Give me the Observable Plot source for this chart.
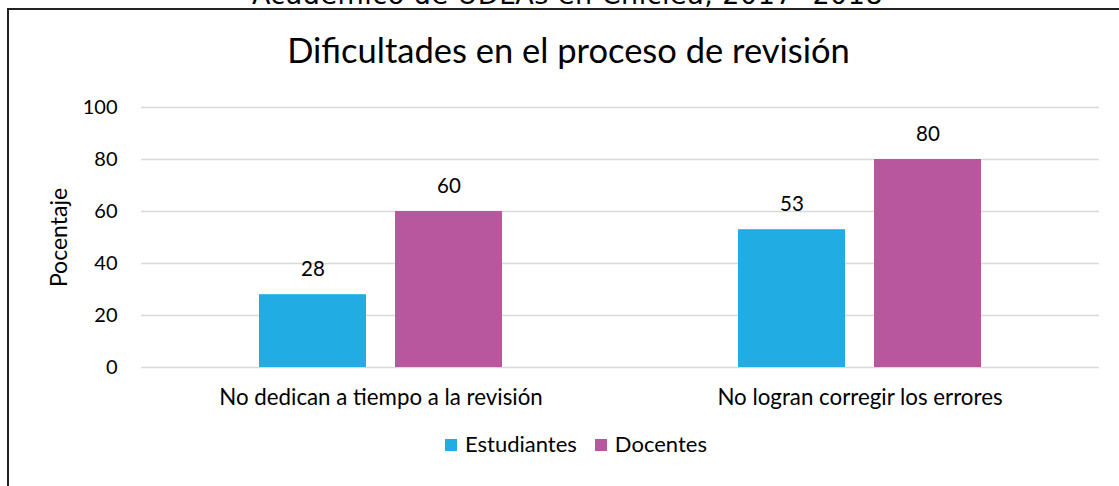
<!DOCTYPE html>
<html><head><meta charset="utf-8">
<script src="https://cdn.jsdelivr.net/npm/d3@7"></script>
<script src="https://cdn.jsdelivr.net/npm/@observablehq/plot@0.6"></script>
<style>
body{margin:0;background:#fff;}
#wrap{position:relative;width:1119px;height:486px;overflow:hidden;font-family:Lato,sans-serif;color:#000;}
#top{position:absolute;left:8px;width:1119px;top:-19px;text-align:center;font-family:"DejaVu Sans";font-size:27px;line-height:1;white-space:nowrap;letter-spacing:0.5px;}
#frame{position:absolute;left:7px;top:8px;width:1300px;height:700px;border-left:2px solid #222;border-top:2px solid #222;}
#title{position:absolute;left:9px;width:1119px;top:33px;text-align:center;font-size:34.5px;line-height:1;white-space:nowrap;}
#chart{position:absolute;left:0;top:80px;}
#legend{position:absolute;left:445px;top:433px;display:flex;align-items:flex-start;font-size:22px;line-height:1;white-space:nowrap;}
.sw{width:12px;height:12px;margin-top:6px;margin-right:8px;}
.item{display:flex;margin-right:18px;}
</style>
</head><body>
<div id="wrap">
<div id="top"></div>
<div id="frame"></div>
<div id="title"></div>
<div id="chart"></div>
<div id="legend"></div>
</div>
<script>
const supertitle = "Académico de UDLAs en Chiclea, 2017- 2018";
const title = "Dificultades en el proceso de revisión";
const categories = ["No dedican a tiempo a la revisión", "No logran corregir los errores"];
const series = ["Estudiantes", "Docentes"];
const estudiantes = [28, 53];
const docentes = [60, 80];
const yTicks = [0, 20, 40, 60, 80, 100];
const yLabel = "Pocentaje";
const colors = ["#21ADE3", "#B8569E"];

document.getElementById("top").textContent = supertitle;
document.getElementById("title").textContent = title;

const data = categories.flatMap((c, i) => [
  {cat: c, serie: series[0], v: estudiantes[i]},
  {cat: c, serie: series[1], v: docentes[i]}
]);

const chart = Plot.plot({
  width: 1119,
  height: 340,
  marginTop: 27,
  marginBottom: 53,
  marginLeft: 141,
  marginRight: 20,
  style: {fontFamily: "Lato, sans-serif", fontSize: "20px", color: "#000", background: "transparent", overflow: "visible"},
  fx: {domain: categories, padding: 0, axis: null},
  x: {domain: series, paddingInner: 0.2132, paddingOuter: 0.8676, axis: null},
  y: {domain: [0, 100], axis: null},
  color: {domain: series, range: colors},
  marks: [
    Plot.gridY(yTicks, {stroke: "#d9d9d9", strokeOpacity: 1, strokeWidth: 1.5}),
    Plot.barY(data, {fx: "cat", x: "serie", y: "v", fill: "serie"}),
    Plot.text(data, {fx: "cat", x: "serie", y: "v", text: d => String(d.v), dy: -25, fontSize: 20.5, fill: "#000"}),
    Plot.axisFx({anchor: "bottom", tickSize: 0, tickPadding: 22, label: null, fontSize: 22.3}),
    Plot.axisY(yTicks, {anchor: "left", tickSize: 0, tickPadding: 24, fontSize: 20, label: yLabel, labelArrow: "none", labelAnchor: "center", labelOffset: 91})
  ]
});
document.getElementById("chart").appendChild(chart);
chart.querySelectorAll("[aria-label='y-axis label']").forEach(g => {
  g.setAttribute("font-size", 23);
  g.querySelectorAll("text").forEach(t => { t.textContent = t.textContent.replace(/\s*[↑→]\s*/g, ""); });
});

const leg = document.getElementById("legend");
series.forEach((s, i) => {
  const it = document.createElement("div");
  it.className = "item";
  const sw = document.createElement("div");
  sw.className = "sw";
  sw.style.background = colors[i];
  const t = document.createElement("span");
  t.textContent = s;
  it.appendChild(sw); it.appendChild(t);
  leg.appendChild(it);
});
</script>
</body></html>
